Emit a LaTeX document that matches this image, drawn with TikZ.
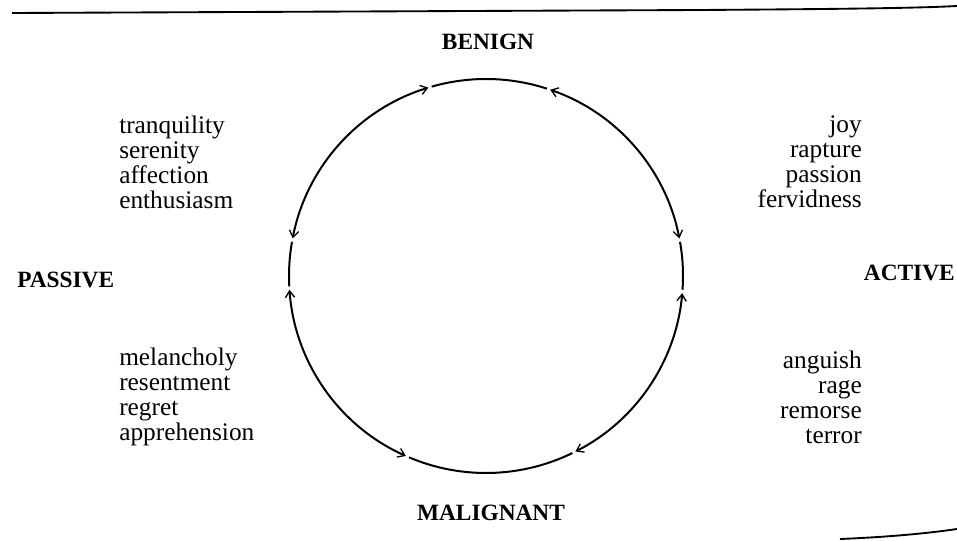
\documentclass[tikz,border=0pt]{standalone}
\usepackage{fontspec}
\setmainfont{Liberation Serif}
\usepackage{tikz}
\usetikzlibrary{arrows.meta, positioning, calc}

\begin{document}
\begin{tikzpicture}[
  x=0.75pt, y=0.75pt,
  pole/.style={font=\fontsize{17.5}{19}\selectfont\bfseries},
  wordlist/.style={font=\fontsize{19}{18.75}\selectfont, inner sep=0pt},
  cyc/.style={line width=1.5pt},
  twoway/.style={cyc, {Straight Barb[length=5pt, width=7pt, line width=1pt]}-{Straight Barb[length=5pt, width=7pt, line width=1pt]}},
]
  \useasboundingbox (0,0) rectangle (957,540);

  % Page rules
  \draw[line width=1.4pt] (12,527) -- (700,530) .. controls (850,531) and (920,532) .. (957,534);
  \draw[line width=1.4pt] (840,1) .. controls (890,3) and (930,7) .. (957,11);

  % Circle
  \coordinate (ctr) at (486,264);
  \def\rad{197}
  \draw[twoway] ($(ctr)+(11:\rad)$) arc[start angle=11, end angle=71, radius=\rad];
  \draw[cyc] ($(ctr)+(72:\rad)$) arc[start angle=72, end angle=106, radius=\rad];
  \draw[twoway] ($(ctr)+(107:\rad)$) arc[start angle=107, end angle=169, radius=\rad];
  \draw[cyc] ($(ctr)+(170:\rad)$) arc[start angle=170, end angle=183, radius=\rad];
  \draw[twoway] ($(ctr)+(184:\rad)$) arc[start angle=184, end angle=246, radius=\rad];
  \draw[cyc] ($(ctr)+(247:\rad)$) arc[start angle=247, end angle=296, radius=\rad];
  \draw[twoway] ($(ctr)+(297:\rad)$) arc[start angle=297, end angle=355, radius=\rad];
  \draw[cyc] ($(ctr)+(356:\rad)$) arc[start angle=356, end angle=370, radius=\rad];

  % Poles
  \node[pole] (benign) at (488,498) {BENIGN};
  \node[pole] (malignant) at (491,27) {MALIGNANT};
  \node[pole, anchor=west, inner sep=0pt] (passive) at (17,260) {PASSIVE};
  \node[pole, anchor=east, inner sep=0pt] (active) at (955,267) {ACTIVE};

  % Emotions
  \node[wordlist, anchor=west, align=left] (benpas) at (119,378)
    {tranquility\\serenity\\affection\\enthusiasm};
  \node[wordlist, anchor=east, align=right] (benact) at (862,378)
    {joy\\rapture\\passion\\fervidness};
  \node[wordlist, anchor=west, align=left] (malpas) at (119,143)
    {melancholy\\resentment\\regret\\apprehension};
  \node[wordlist, anchor=east, align=right] (malact) at (862,143)
    {anguish\\rage\\remorse\\terror};
\end{tikzpicture}
\end{document}
